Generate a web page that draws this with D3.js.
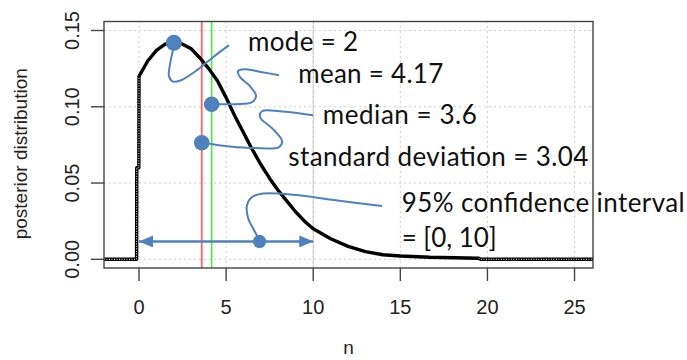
<!DOCTYPE html>
<html>
<head>
<meta charset="utf-8">
<script src="https://cdn.jsdelivr.net/npm/d3@7"></script>
<style>
  body { margin: 0; background: #fff; }
  svg { display: block; }
</style>
</head>
<body>
<div id="chart"></div>
<script>
// posterior density
const nVals   = [-2.01, -0.14, -0.13, -0.01, 0, 0.5, 1, 1.5, 2, 2.5, 3, 3.5, 4, 4.5, 5, 5.5, 6, 6.5, 7, 7.5, 8, 8.5, 9, 9.5, 10, 11, 12, 13, 14, 15, 16.7, 19.5, 19.6, 26.06];
const density = [0, 0, 0.06, 0.06, 0.12, 0.130, 0.137, 0.141, 0.1425, 0.141, 0.138, 0.132, 0.125, 0.117, 0.106, 0.094, 0.083, 0.072, 0.062, 0.053, 0.045, 0.038, 0.031, 0.025, 0.020, 0.0135, 0.0085, 0.005, 0.003, 0.0022, 0.0013, 0.0007, 0, 0];

const xTicks = [0, 5, 10, 15, 20, 25];
const yTicks = [0, 0.05, 0.10, 0.15];

// summary stats
const modeVal = 2, meanVal = 4.17, medianVal = 3.6, sdVal = 3.04;
const ciRange = [0, 10];

const width = 687, height = 360;
const margin = { top: 21.5, right: 94, bottom: 92, left: 104 };

const svg = d3.select("#chart").append("svg")
  .attr("width", width).attr("height", height)
  .attr("viewBox", [0, 0, width, height]);

const x = d3.scaleLinear().domain([-2.01, 26.06]).range([margin.left, width - margin.right]);
const y = d3.scaleLinear().domain([-0.0057, 0.1559]).range([height - margin.bottom, margin.top]);

const axisCol = "#444";
const tickFont = "'Liberation Sans', Arial, sans-serif";

svg.append("defs").append("clipPath").attr("id", "plot")
  .append("rect").attr("x", x.range()[0]).attr("y", y.range()[1])
  .attr("width", x.range()[1] - x.range()[0]).attr("height", y.range()[0] - y.range()[1]);

// grid
const grid = svg.append("g").attr("stroke", "#cfcfcf").attr("stroke-width", 1).attr("stroke-dasharray", "2,3");
grid.selectAll(".gx").data(xTicks).join("line")
  .attr("x1", d => x(d)).attr("x2", d => x(d))
  .attr("y1", y.range()[0]).attr("y2", y.range()[1]);
grid.selectAll(".gy").data(yTicks).join("line")
  .attr("y1", d => y(d)).attr("y2", d => y(d))
  .attr("x1", x.range()[0]).attr("x2", x.range()[1]);
// solid guide at upper CI bound
svg.append("line").attr("stroke", "#c8c8c8").attr("stroke-width", 1)
  .attr("x1", x(ciRange[1])).attr("x2", x(ciRange[1]))
  .attr("y1", y.range()[0]).attr("y2", y.range()[1]);

// median (red) and mean (green)
svg.append("line").attr("stroke", "#ff6464").attr("stroke-width", 1.8)
  .attr("x1", x(medianVal)).attr("x2", x(medianVal)).attr("y1", y.range()[0]).attr("y2", y.range()[1]);
svg.append("line").attr("stroke", "#3ff03f").attr("stroke-width", 1.6)
  .attr("x1", x(meanVal)).attr("x2", x(meanVal)).attr("y1", y.range()[0]).attr("y2", y.range()[1]);

// density curve
const pts = nVals.map((n, i) => [n, density[i]]);
const line = d3.line().x(d => x(d[0])).y(d => y(d[1]));
const curveG = svg.append("g").attr("clip-path", "url(#plot)");
curveG.append("path").datum(pts).attr("d", line)
  .attr("fill", "none").attr("stroke", "#000").attr("stroke-width", 3.4).attr("stroke-linejoin", "round");
// dotted texture on flat parts
curveG.append("path").datum(pts)
  .attr("d", line.defined(d => d[0] <= 0 || d[0] >= 19.5))
  .attr("fill", "none").attr("stroke", "#fff").attr("stroke-width", 1).attr("stroke-dasharray", "1,1.5");

// box + axes
svg.append("rect").attr("x", x.range()[0]).attr("y", y.range()[1])
  .attr("width", x.range()[1] - x.range()[0]).attr("height", y.range()[0] - y.range()[1])
  .attr("fill", "none").attr("stroke", axisCol).attr("stroke-width", 1.4);

svg.append("g").attr("stroke", axisCol).attr("stroke-width", 1.4)
  .selectAll("line").data(xTicks).join("line")
  .attr("x1", d => x(d)).attr("x2", d => x(d))
  .attr("y1", y.range()[0]).attr("y2", y.range()[0] + 13);
svg.append("g").selectAll("text").data(xTicks).join("text")
  .attr("x", d => x(d)).attr("y", 314).attr("text-anchor", "middle")
  .attr("font-family", tickFont).attr("font-size", 20).attr("fill", "#222")
  .text(d => d);

svg.append("g").attr("stroke", axisCol).attr("stroke-width", 1.4)
  .selectAll("line").data(yTicks).join("line")
  .attr("y1", d => y(d)).attr("y2", d => y(d))
  .attr("x1", x.range()[0] - 13).attr("x2", x.range()[0]);
svg.append("g").selectAll("text").data(yTicks).join("text")
  .attr("transform", d => `translate(79,${y(d)}) rotate(-90)`)
  .attr("text-anchor", "middle")
  .attr("font-family", tickFont).attr("font-size", 20).attr("fill", "#222")
  .text(d => d3.format(".2f")(d));

svg.append("text").attr("x", (x.range()[0] + x.range()[1]) / 2).attr("y", 354)
  .attr("text-anchor", "middle").attr("font-family", tickFont).attr("font-size", 19).attr("fill", "#222")
  .text("n");
svg.append("text").attr("transform", `translate(27,${(y.range()[0] + y.range()[1]) / 2 + 9}) rotate(-90)`)
  .attr("text-anchor", "middle").attr("font-family", tickFont).attr("font-size", 19).attr("fill", "#222")
  .text("posterior distribution");

// annotations (positions in data units)
const blue = "#4f81bd";
const annFont = "Lato, 'Open Sans', sans-serif";

const connectors = [
  [[1.95, 0.1371], [1.78, 0.1279], [1.72, 0.1201], [1.95, 0.1165], [2.41, 0.1174], [3.33, 0.1240], [4.25, 0.1325], [5.17, 0.1404]],
  [[4.25, 0.1017], [5.51, 0.1017], [6.49, 0.1030], [6.72, 0.1070], [6.37, 0.1135], [5.80, 0.1194], [5.68, 0.1233], [6.08, 0.1246], [7.06, 0.1227], [8.04, 0.1207]],
  [[3.67, 0.0764], [5.22, 0.0739], [6.66, 0.0729], [8.04, 0.0736], [8.21, 0.0775], [7.63, 0.0860], [6.95, 0.0932], [7.06, 0.0971], [8.09, 0.0971], [9.99, 0.0945]],
  [[6.95, 0.0117], [6.60, 0.0192], [6.26, 0.0271], [6.20, 0.0356], [6.49, 0.0408], [7.12, 0.0431], [9.07, 0.0421], [10.96, 0.0392], [13.95, 0.0349]]
];
const conLine = d3.line().x(d => x(d[0])).y(d => y(d[1])).curve(d3.curveCatmullRom.alpha(0.5));
svg.append("g").selectAll("path").data(connectors).join("path")
  .attr("d", conLine).attr("fill", "none").attr("stroke", blue).attr("stroke-width", 2);

// CI double arrow
const defs = svg.select("defs");
defs.append("marker").attr("id", "ah").attr("viewBox", "0 0 14 12")
  .attr("refX", 14).attr("refY", 6).attr("markerWidth", 14).attr("markerHeight", 12)
  .attr("markerUnits", "userSpaceOnUse").attr("orient", "auto-start-reverse")
  .append("path").attr("d", "M0,0L14,6L0,12Z").attr("fill", blue);
const ciY = 0.0117;
svg.append("line")
  .attr("x1", x(ciRange[0])).attr("x2", x(ciRange[1])).attr("y1", y(ciY)).attr("y2", y(ciY))
  .attr("stroke", blue).attr("stroke-width", 2.5)
  .attr("marker-start", "url(#ah)").attr("marker-end", "url(#ah)");

const dots = [
  { n: modeVal, v: 0.1419, r: 8 },
  { n: meanVal, v: 0.1017, r: 7.8 },
  { n: medianVal, v: 0.0764, r: 7.8 },
  { n: 6.92, v: ciY, r: 6.6 }
];
svg.append("g").selectAll("circle").data(dots).join("circle")
  .attr("cx", d => x(d.n)).attr("cy", d => y(d.v)).attr("r", d => d.r).attr("fill", blue);

// label widths as measured on the reference (Calibri-ish text)
const labels = [
  { t: `mode = ${modeVal}`, n: 6.26, v: 0.1363, w: 110 },
  { t: `mean = ${meanVal}`, n: 9.14, v: 0.1153, w: 145 },
  { t: `median = ${medianVal}`, n: 10.55, v: 0.0884, w: 154 },
  { t: `standard deviation = ${sdVal.toFixed(2)}`, n: 8.57, v: 0.0613, w: 300 },
  { t: "95% confidence interval", n: 15.08, v: 0.0312, w: 283 },
  { t: `= [${ciRange[0]}, ${ciRange[1]}]`, n: 15.08, v: 0.0079, w: 95 }
];
svg.append("g").selectAll("text").data(labels).join("text")
  .attr("x", d => x(d.n)).attr("y", d => y(d.v))
  .attr("font-family", annFont).attr("font-size", 26).attr("fill", "#111")
  .attr("textLength", d => d.w).attr("lengthAdjust", "spacing")
  .text(d => d.t);
</script>
</body>
</html>
